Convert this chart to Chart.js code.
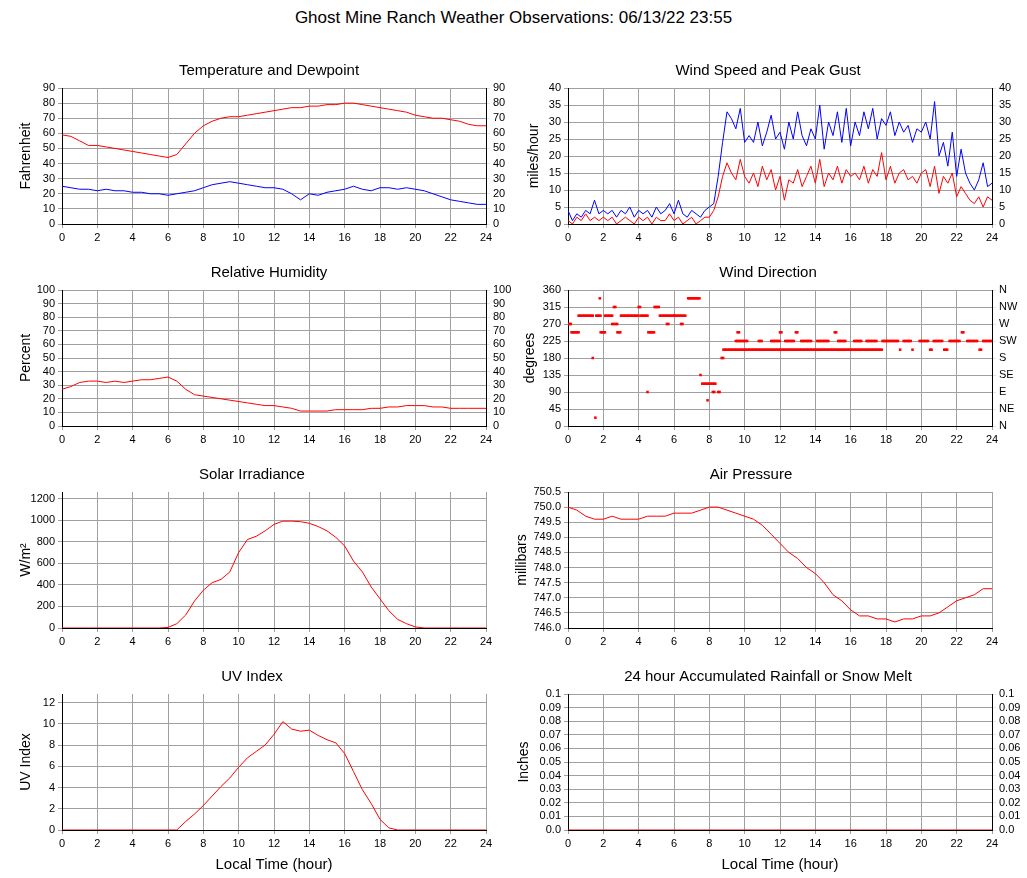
<!DOCTYPE html>
<html>
<head>
<meta charset="utf-8">
<script src="https://cdn.jsdelivr.net/npm/chart.js@4"></script>
<style>
  body { margin: 0; background: #fff; width: 1027px; height: 878px; position: relative; font-family: "Liberation Sans", Arial, sans-serif; }
  #mainTitle { position: absolute; top: 8px; left: 0; width: 1027px; text-align: center; font-size: 17px; }
  canvas { position: absolute; }
</style>
</head>
<body>
<div id="mainTitle">Ghost Mine Ranch Weather Observations: 06/13/22 23:55</div>
<canvas id="c1"></canvas><canvas id="c2"></canvas>
<canvas id="c3"></canvas><canvas id="c4"></canvas>
<canvas id="c5"></canvas><canvas id="c6"></canvas>
<canvas id="c7"></canvas><canvas id="c8"></canvas>
<script>
// half-hour times 0..24
const halfHours = Array.from({ length: 49 }, (_, i) => i * 0.5);
const quarterHours = Array.from({ length: 97 }, (_, i) => i * 0.25);

const temperature = [59,58,55,52,52,51,50,49,48,47,46,45,44,46,53,60,65,68,70,71,71,72,73,74,75,76,77,77,78,78,79,79,80,80,79,78,77,76,75,74,72,71,70,70,69,68,66,65,65];
const dewpoint = [25,24,23,23,22,23,22,22,21,21,20,20,19,20,21,22,24,26,27,28,27,26,25,24,24,23,20,16,20,19,21,22,23,25,23,22,24,24,23,24,23,22,20,18,16,15,14,13,13];
const humidity = [27,29,32,33,33,32,33,32,33,34,34,35,36,33,27,23,22,21,20,19,18,17,16,15,15,14,13,11,11,11,11,12,12,12,12,13,13,14,14,15,15,15,14,14,13,13,13,13,13];

const windGust = [4,1,3,2,4,3,7,3,4, 3,4,2,4,3,5,2,4, 3,4,2,5,3,4,6,3, 7,3,2,4,3,2,4,5,
  6,14,24,33,31,28,34,24, 26,24,30,23,27,32,25,27, 22,30,25,33,26,23,28,25, 35,22,30,26,33,24,34,23,
  30,26,33,28,34,25,31,29, 33,26,30,27,29,24,28,27, 30,25,36,20,24,17,27,14, 22,15,12,10,13,18,11,12];
const windSpeed = [1,0,2,1,3,1,2,1,2, 1,2,0,1,2,1,0,2, 1,2,0,2,1,1,3,1, 2,0,1,2,0,1,2,2,
  4,8,14,18,15,13,19,14, 12,15,11,17,13,16,10,14, 7,13,12,16,11,14,17,12, 19,11,15,13,17,12,16,14,
  15,13,17,12,16,14,21,13, 17,12,15,16,13,14,12,15, 16,11,17,9,14,12,15,8, 11,9,7,6,8,5,8,7];

// wind direction observed runs: start hour, end hour, degrees
const dirStart = [0,0.2,0.6,1.4,1.55,1.6,1.8,1.85,2.1,2.5,2.6,2.7,2.8,3.0,4.0,4.1,4.5,4.55,4.9,5.2,5.6,6.0,6.4,6.8,7.5,7.6,7.9,8.1,8.2,8.5,8.7,8.8,9.5,9.6,10.8,11.5,12.0,12.3,12.9,13.2,14.1,15.1,15.3,16.2,16.9,17.8,19.0,19.9,20.7,21.6,22.6,23.5,18.8,19.5,20.5,21.3,22.3,23.3];
const dirEnd   = [0.2,0.6,1.4,1.45,1.6,1.9,1.85,2.1,2.5,2.6,2.7,2.8,3.0,4.0,4.1,4.5,4.55,4.9,5.2,6.0,5.7,6.7,6.5,7.5,7.55,8.0,7.95,8.4,8.3,8.6,8.8,17.8,10.2,9.7,11.0,12.0,12.1,12.8,13.0,13.8,14.8,15.2,15.7,16.6,17.5,18.7,19.4,20.4,21.2,22.2,23.2,24,18.85,19.55,20.6,21.5,22.4,23.45];
const dirValue = [270,248,292,180,22,292,338,248,292,270,315,270,248,292,315,292,90,248,315,292,270,292,270,338,135,112,68,112,90,90,180,202,225,248,225,225,248,225,248,225,225,248,225,225,225,225,225,225,225,225,225,225,202,202,202,202,248,202];
const compassLabels = ['N','NE','E','SE','S','SW','W','NW','N'];

const solar = [0,0,0,0,0,0,0,0,0,0,0,0,5,40,120,250,350,420,450,520,700,820,850,900,960,990,990,985,970,940,900,840,760,620,520,380,270,160,80,40,10,0,0,0,0,0,0,0,0];
const solarTicks = [0,200,400,600,800,1000,1200];
const pressure = [750.0,749.9,749.7,749.6,749.6,749.7,749.6,749.6,749.6,749.7,749.7,749.7,749.8,749.8,749.8,749.9,750.0,750.0,749.9,749.8,749.7,749.6,749.4,749.1,748.8,748.5,748.3,748.0,747.8,747.5,747.1,746.9,746.6,746.4,746.4,746.3,746.3,746.2,746.3,746.3,746.4,746.4,746.5,746.7,746.9,747.0,747.1,747.3,747.3];
const uvIndex = [0,0,0,0,0,0,0,0,0,0,0,0,0,0,0.8,1.5,2.3,3.2,4.1,4.9,5.9,6.8,7.4,8.0,9.0,10.2,9.5,9.3,9.4,8.9,8.5,8.2,7.2,5.5,3.8,2.5,1.0,0.2,0,0,0,0,0,0,0,0,0,0,0];
const uvTicks = [0,2,4,6,8,10,12];
const rainfall = halfHours.map(() => 0);

const FONT = 'Liberation Sans';
const GRID = '#a0a0a0';

function pts(xs, ys) { return xs.map((x, i) => ({ x: x, y: ys[i] })); }

function dirPoints() {
  const out = [];
  dirStart.forEach((s, i) => {
    for (let t = s; t <= dirEnd[i] + 1e-6; t += 0.08) out.push({ x: t, y: dirValue[i] });
  });
  return out;
}

function fitW(w) { return (axis) => { axis.width = w; }; }

// left: canvas x, axisW: width of left axis incl. title; plot starts at left + axisW
function makePanel(id, left, axisW, top, o) {
  const cv = document.getElementById(id);
  const bottomRow = !!o.xTitle;
  const h = 30 + 136 + (bottomRow ? 44 : 22);
  const w = axisW + 424 + 34;
  cv.style.left = left + 'px';
  cv.style.top = (top - 30) + 'px';
  cv.width = w; cv.height = h;
  cv.style.width = w + 'px'; cv.style.height = h + 'px';

  const yTick = { font: { family: FONT, size: 11 }, color: '#000', padding: 3, autoSkip: false };
  const scales = {
    x: {
      type: 'linear', min: 0, max: 24,
      ticks: { stepSize: 2, autoSkip: false, font: { family: FONT, size: 11 }, color: '#000', maxRotation: 0 },
      grid: { color: GRID, tickLength: 4 },
      border: { color: '#000' },
      title: { display: bottomRow, text: o.xTitle || '', font: { family: FONT, size: 15 }, color: '#000', padding: 0 },
      afterFit: (a) => { a.height = bottomRow ? 44 : 22; }
    },
    y: {
      position: 'left', min: o.min, max: o.max,
      ticks: Object.assign({}, yTick, { stepSize: o.step, callback: o.fmt || ((v) => v) }),
      grid: { color: GRID, tickLength: 4 },
      border: { color: '#000' },
      title: { display: true, text: o.yTitle, font: { family: FONT, size: 14 }, color: '#000', padding: { top: o.titlePad || 0, bottom: 0 } },
      afterFit: fitW(axisW)
    }
  };
  if (o.tickList) {
    scales.y.afterBuildTicks = (axis) => { axis.ticks = o.tickList.map((v) => ({ value: v })); };
  }
  if (o.right) {
    scales.y2 = {
      position: 'right', min: o.min, max: o.max,
      ticks: Object.assign({}, yTick, { stepSize: o.step, callback: o.rightFmt || o.fmt || ((v) => v) }),
      grid: { drawOnChartArea: false, tickLength: 4 },
      border: { color: '#000' },
      afterFit: fitW(34)
    };
  }
  new Chart(cv, {
    type: 'line',
    data: { datasets: o.datasets },
    options: {
      responsive: false, animation: false,
      layout: { padding: { right: o.right ? 0 : 34 } },
      plugins: {
        legend: { display: false }, tooltip: { enabled: false },
        title: { display: true, text: o.title, font: { family: FONT, size: 15, weight: 'normal' }, color: '#000', padding: { top: 4, bottom: 8 } }
      },
      scales: scales
    }
  });
}

function line(xs, ys, color) {
  return { data: pts(xs, ys), borderColor: color, borderWidth: 1, pointRadius: 0, tension: 0, fill: false };
}

function leftPanel(id, top, o) { makePanel(id, 18, 44, top, o); }
function rightPanel(id, top, o) { makePanel(id, 510, 58, top, o); }

leftPanel('c1', 88, { title: 'Temperature and Dewpoint', yTitle: 'Fahrenheit', min: 0, max: 90, step: 10, right: true,
  datasets: [line(halfHours, temperature, '#ff0000'), line(halfHours, dewpoint, '#0000ff')] });
rightPanel('c2', 88, { title: 'Wind Speed and Peak Gust', yTitle: 'miles/hour', min: 0, max: 40, step: 5, right: true, titlePad: 16,
  datasets: [line(quarterHours, windGust, '#0000ff'), line(quarterHours, windSpeed, '#ff0000')] });
leftPanel('c3', 290, { title: 'Relative Humidity', yTitle: 'Percent', min: 0, max: 100, step: 10, right: true,
  datasets: [line(halfHours, humidity, '#ff0000')] });
rightPanel('c4', 290, { title: 'Wind Direction', yTitle: 'degrees', min: 0, max: 360, step: 45, right: true, titlePad: 12,
  rightFmt: (v) => compassLabels[Math.round(v / 45)] || '',
  datasets: [{ data: dirPoints(), showLine: false, pointStyle: 'rect', pointRadius: 1.8, pointBackgroundColor: '#ff0000', pointBorderColor: '#ff0000', pointBorderWidth: 0 }] });
leftPanel('c5', 492, { title: 'Solar Irradiance', yTitle: 'W/m²', min: 0, max: 1260, step: 200, tickList: solarTicks,
  datasets: [line(halfHours, solar, '#ff0000')] });
rightPanel('c6', 492, { title: 'Air Pressure', yTitle: 'millibars', min: 746, max: 750.5, step: 0.5, titlePad: 4,
  fmt: (v) => v.toFixed(1),
  datasets: [line(halfHours, pressure, '#ff0000')] });
leftPanel('c7', 694, { title: 'UV Index', yTitle: 'UV Index', min: 0, max: 12.8, step: 2, tickList: uvTicks, xTitle: 'Local Time (hour)',
  datasets: [line(halfHours, uvIndex, '#ff0000')] });
rightPanel('c8', 694, { title: '24 hour Accumulated Rainfall or Snow Melt', yTitle: 'Inches', min: 0, max: 0.1, step: 0.01, right: true, titlePad: 6, xTitle: 'Local Time (hour)',
  fmt: (v) => (v === 0 ? '0.0' : String(+v.toFixed(2))),
  datasets: [line(halfHours, rainfall, '#ff0000')] });
</script>
</body>
</html>
